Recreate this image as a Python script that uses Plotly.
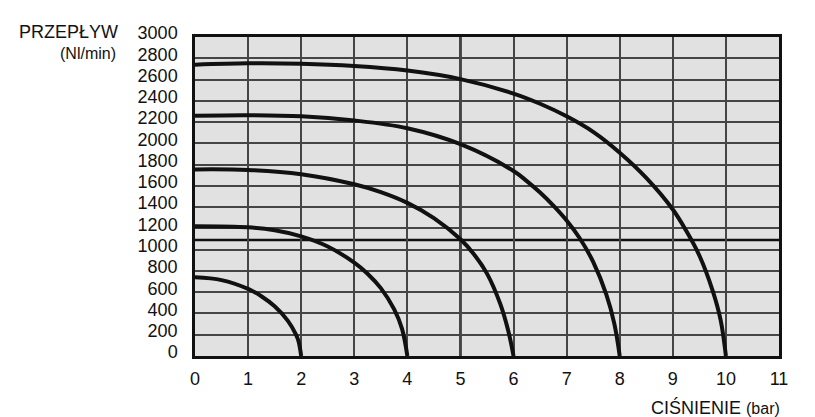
"""Flow vs pressure chart (PRZEPŁYW / CIŚNIENIE)."""
import plotly.graph_objects as go

BG = "#e1e1e1"
GRID = "#454545"
INK = "#111111"
FONT = "Liberation Sans, Arial, sans-serif"

# pressure (bar) / flow (Nl/min), one curve per supply pressure
p2 = [0, 0.5, 1.0, 1.25, 1.5, 1.75, 1.9, 1.95, 2.0]
q2 = [740, 714, 631, 562, 467, 330, 203, 139, 0]

p4 = [0, 1, 1.5, 2, 2.5, 3, 3.25, 3.5, 3.75, 3.9, 4.0]
q4 = [1220, 1210, 1182, 1125, 1030, 878, 774, 638, 440, 255, 0]

p6 = [0, 1, 2, 3, 3.5, 4, 4.5, 5, 5.25, 5.5, 5.75, 5.9, 6.0]
q6 = [1755, 1750, 1710, 1615, 1541, 1440, 1297, 1098, 960, 775, 490, 237, 0]

p8 = [0, 1, 2, 3, 4, 5, 6, 6.25, 6.5, 6.75, 7, 7.25, 7.5, 7.75, 7.9, 8.0]
q8 = [2260, 2265, 2255, 2215, 2142, 1992, 1740, 1645, 1538, 1415, 1275, 1105,
      885, 575, 300, 0]

p10 = [0, 1, 2, 3, 4, 5, 6, 6.5, 7, 7.5, 8, 8.5, 9, 9.25, 9.5, 9.75, 9.9, 10]
q10 = [2740, 2752, 2748, 2727, 2684, 2604, 2468, 2372, 2254, 2108, 1912, 1675,
       1378, 1180, 945, 615, 340, 0]

x_ticks = list(range(0, 12))
y_ticks = list(range(0, 3001, 200))
ref_pressure = 5
ref_flow = 1090

fig = go.Figure()
for px, qy in ((p2, q2), (p4, q4), (p6, q6), (p8, q8), (p10, q10)):
  fig.add_trace(go.Scatter(
    x=px, y=qy, mode="lines",
    line=dict(color=INK, width=4, shape="spline", smoothing=1.0),
    showlegend=False, hoverinfo="skip",
  ))

fig.add_vline(x=ref_pressure, line_width=2.5, line_color=INK, layer="below")
fig.add_hline(y=ref_flow, line_width=2.5, line_color=INK, layer="below")

# page body has an 8px margin, so the figure is laid out 8px up/left
fig.add_annotation(
  x=-0.305, y=1.016, xref="paper", yref="paper", xanchor="left", yanchor="middle",
  text="PRZEPŁYW", showarrow=False, font=dict(size=18, color=INK, family=FONT),
)
fig.add_annotation(
  x=-0.132, y=0.947, xref="paper", yref="paper", xanchor="right", yanchor="middle",
  text="(Nl/min)", showarrow=False, font=dict(size=16, color=INK, family=FONT),
)
fig.add_annotation(
  x=1.005, y=-0.16, xref="paper", yref="paper", xanchor="right", yanchor="middle",
  text="CIŚNIENIE <span style='font-size:16px'>(bar)</span>", showarrow=False,
  font=dict(size=18, color=INK, family=FONT),
)

fig.update_layout(
  width=815, height=417,
  paper_bgcolor="white", plot_bgcolor=BG,
  margin=dict(l=187, r=44, t=29, b=69),
  font=dict(family=FONT, size=18, color=INK),
)
fig.update_xaxes(
  range=[0, 11], tickvals=x_ticks, ticks="",
  showgrid=True, gridcolor=GRID, gridwidth=1.5, zeroline=False,
  showline=True, linecolor=INK, linewidth=2.5, mirror=True,
  ticklabelstandoff=5,
)
fig.update_yaxes(
  range=[0, 3000], tickvals=y_ticks, ticks="",
  showgrid=True, gridcolor=GRID, gridwidth=1.5, zeroline=False,
  showline=True, linecolor=INK, linewidth=2.5, mirror=True,
  ticklabelstandoff=11, ticklabelshift=-4,
)

fig.write_html("out.html")
